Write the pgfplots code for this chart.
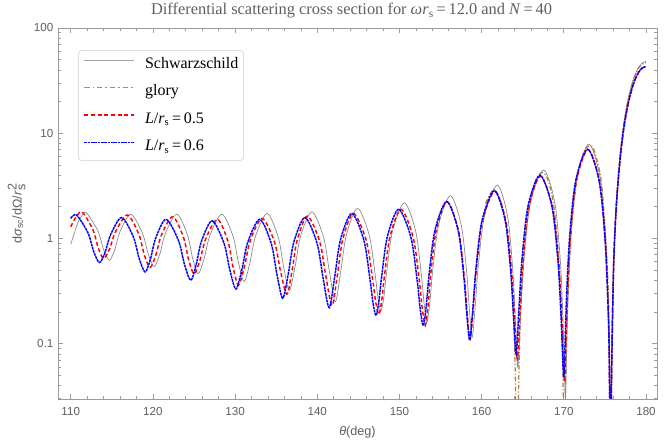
\documentclass[border=0pt]{standalone}
\usepackage{fontspec}
\setmainfont{Liberation Serif}
\setsansfont{Liberation Sans}
\usepackage{pgfplots}
\pgfplotsset{compat=1.18}
\definecolor{framegray}{RGB}{155,155,155}
\definecolor{labgray}{RGB}{95,95,95}
\definecolor{glorybrown}{RGB}{175,125,70}
\definecolor{gloryleg}{RGB}{185,135,80}
\definecolor{schwgray}{RGB}{135,135,135}
\definecolor{schwleg}{RGB}{165,165,165}
\begin{document}
\begin{tikzpicture}
\useasboundingbox (-43.5pt,-34.5pt) rectangle (454.5pt,299.25pt);
\begin{axis}[
  scale only axis, width=449.25pt, height=278.25pt,
  xmin=108.45, xmax=181.34, ymode=log, ymin=0.0298, ymax=100,
  xtick={110,120,130,140,150,160,170,180}, minor x tick num=4,
  ytick={0.1,1,10,100}, yticklabels={0.1,1,10,100},
  minor ytick={0.03,0.04,0.05,0.06,0.07,0.08,0.09,0.2,0.3,0.4,0.5,0.6,0.7,0.8,0.9,2,3,4,5,6,7,8,9,20,30,40,50,60,70,80,90},
  axis line style={framegray},
  tick style={draw=framegray, line width=0.5pt},
  major tick length=3.75pt, minor tick length=2.25pt,
  /pgf/number format/assume math mode=true,
  tick label style={font=\sffamily\fontsize{8.7}{10}\selectfont, text=labgray},
  xticklabel style={yshift=-2.5pt},
  xlabel={\textit{θ}(deg)},
  ylabel={d\textit{σ}\textsubscript{sc}/dΩ/\textit{r}$_{\textsf{s}}^{\textsf{2}}$},
  label style={font=\sffamily\fontsize{9.5}{11}\selectfont, text=labgray},
  xlabel style={at={(axis description cs:0.5,-0.09)}, anchor=center},
  ylabel style={at={(axis description cs:-0.069,0.5)}, anchor=center},
  every axis title shift=0pt,
  title style={font=\fontsize{12.3}{14}\selectfont, text=labgray, at={(axis description cs:0.49,1.046)}, anchor=center, inner sep=0pt},
  title={Differential scattering cross section for \textit{ωr}\textsubscript{s}\,=\,12.0 and \textit{N}\,=\,40},
  legend cell align=left,
  legend style={at={(axis description cs:0.0334,0.9406)}, anchor=north west,
    draw=black!20, rounded corners=3pt, fill=white,
    font=\fontsize{12}{14}\selectfont, inner xsep=4pt, inner ysep=5pt,
    row sep=9.6pt, nodes={inner sep=0pt, text height=8.5pt, text depth=2.5pt},
    /tikz/every odd column/.append style={column sep=7.5pt}},
]
\addlegendimage{legend image code/.code={\draw[schwleg, line width=0.5pt] (0pt,3pt) -- (37.5pt,3pt);}}
\addlegendentry{Schwarzschild}
\addlegendimage{legend image code/.code={\draw[gloryleg, line width=1.1pt, dash pattern=on 4pt off 2.2pt on 1.2pt off 2.2pt] (0pt,3pt) -- (37.5pt,3pt);}}
\addlegendentry{glory}
\addlegendimage{legend image code/.code={\draw[red, line width=1.1pt, dash pattern=on 3pt off 2pt] (0pt,3pt) -- (37.5pt,3pt);}}
\addlegendentry{\textit{L}/\textit{r}\textsubscript{s}\,=\,0.5}
\addlegendimage{legend image code/.code={\draw[blue, line width=1.1pt, dash pattern=on 2pt off 0.5pt] (0pt,3pt) -- (37.5pt,3pt);}}
\addlegendentry{\textit{L}/\textit{r}\textsubscript{s}\,=\,0.6}
\addplot[schwgray, line width=0.5pt, smooth, forget plot] coordinates {
(110.0,0.88) (110.9,1.43) (111.4,1.66) (111.9,1.75) (113.3,1.185) (114.0,0.785) (114.7,0.62) (115.35,0.778) (116.0,1.16) (117.3,1.70) (118.725,1.12) (119.44,0.71) (120.15,0.54) (120.84,0.71) (121.525,1.12) (122.9,1.70) (124.2,1.08) (124.85,0.64) (125.5,0.46) (126.225,0.64) (126.95,1.08) (128.4,1.70) (129.75,1.045) (130.425,0.582) (131.1,0.39) (131.8,0.586) (132.5,1.06) (133.9,1.73) (135.25,1.025) (135.925,0.526) (136.6,0.32) (137.29,0.535) (137.975,1.055) (139.35,1.79) (140.775,1.02) (141.49,0.475) (142.2,0.25) (142.875,0.496) (143.55,1.09) (144.9,1.93) (146.325,1.07) (147.04,0.458) (147.39,0.271) (147.75,0.205) (148.11,0.28) (148.46,0.494) (149.175,1.19) (150.6,2.18) (151.975,1.17) (152.66,0.456) (153.01,0.237) (153.35,0.16) (153.71,0.251) (154.06,0.51) (154.775,1.355) (156.2,2.55) (157.525,1.33) (158.19,0.471) (158.52,0.208) (158.85,0.115) (159.23,0.233) (159.61,0.57) (160.375,1.67) (161.9,3.22) (163.15,1.64) (163.775,0.523) (164.09,0.18) (164.4,0.06) (164.79,0.228) (165.19,0.706) (165.975,2.265) (167.55,4.47) (168.875,2.25) (169.54,0.68) (169.87,0.2) (170.04,0.073) (170.2,0.03) (170.37,0.106) (170.56,0.33) (170.91,1.18) (171.625,3.965) (173.05,7.9) (174.375,3.95) (175.04,1.158) (175.37,0.30) (175.54,0.076) (175.7,0.002) (175.79,0.04) (176.06,0.585) (176.42,2.41) (176.87,6.54) (177.31,12.56) (177.76,20.0) (178.21,28.1) (178.65,35.8) (179.1,42.3) (179.55,46.5) (180,48)
};
\addplot[glorybrown, line width=0.9pt, dash pattern=on 3.5pt off 1.5pt on 0.9pt off 1.5pt, smooth, forget plot] coordinates {
(160.47,2.15) (161.47,2.93) (162.35,2.23) (163.10,1.14) (163.86,0.21) (164.17,0.019) (164.31,0.0001) (164.45,0.019) (164.78,0.224) (165.52,1.386) (166.45,3.33) (167.33,4.23) (168.10,3.53) (168.83,1.91) (169.56,0.395) (169.92,0.0348) (170.07,0.0001) (170.19,0.0266) (170.47,0.264) (171.01,1.48) (171.73,4.12) (172.46,6.67) (173.13,7.62) (173.72,6.79) (174.62,3.18) (175.34,0.44) (175.59,0.0385) (175.69,0.0001) (175.79,0.0385) (176.06,0.573) (176.42,2.36) (176.87,6.4) (177.31,12.3) (177.76,19.6) (178.21,27.5) (178.65,35.0) (179.1,41.4) (179.55,45.5) (180,47)
};
\addplot[red, line width=1.1pt, dash pattern=on 3pt off 2pt, smooth, forget plot] coordinates {
(110.0,1.29) (110.7,1.62) (111.4,1.78) (112.7,1.21) (113.35,0.811) (114.0,0.645) (114.725,0.795) (115.45,1.157) (116.9,1.67) (118.275,1.10) (118.96,0.697) (119.65,0.53) (120.34,0.688) (121.025,1.07) (122.4,1.61) (123.7,1.035) (124.35,0.628) (125.0,0.46) (125.71,0.615) (126.425,0.99) (127.85,1.52) (129.125,0.94) (129.76,0.53) (130.4,0.36) (131.125,0.534) (131.85,0.955) (133.3,1.55) (134.8,0.9225) (135.55,0.479) (136.3,0.295) (136.925,0.49) (137.55,0.96) (138.8,1.63) (140.3,0.93) (141.05,0.435) (141.8,0.23) (142.45,0.45) (143.1,0.98) (144.4,1.73) (145.95,0.96) (146.725,0.415) (147.11,0.249) (147.5,0.19) (147.84,0.255) (148.175,0.439) (148.85,1.04) (150.2,1.89) (151.675,1.02) (152.41,0.404) (152.78,0.215) (153.15,0.149) (153.48,0.228) (153.81,0.454) (154.475,1.19) (155.8,2.23) (157.2,1.17) (157.9,0.42) (158.25,0.191) (158.6,0.11) (158.975,0.212) (159.35,0.504) (160.1,1.455) (161.6,2.80) (162.975,1.436) (163.66,0.471) (164.01,0.176) (164.35,0.072) (164.7,0.218) (165.05,0.632) (165.75,1.986) (167.15,3.9) (168.625,1.97) (169.36,0.608) (169.73,0.19) (169.92,0.08) (170.1,0.043) (170.27,0.11) (170.46,0.308) (170.81,1.06) (171.525,3.52) (172.95,7.0) (174.325,3.5) (175.01,1.027) (175.36,0.268) (175.54,0.069) (175.7,0.002) (175.79,0.035) (176.06,0.535) (176.42,2.2) (176.87,5.86) (177.31,11.25) (177.76,17.9) (178.21,25.2) (178.65,32.1) (179.1,37.9) (179.55,41.7) (180,43)
};
\addplot[blue, line width=1.1pt, dash pattern=on 2pt off 0.5pt, smooth, forget plot] coordinates {
(110.0,1.55) (110.7,1.67) (112.1,1.13) (112.8,0.748) (113.5,0.59) (114.175,0.735) (114.85,1.085) (116.2,1.58) (117.625,1.03) (118.34,0.641) (119.05,0.48) (119.69,0.632) (120.325,1.0) (121.6,1.52) (123.1,0.96) (123.85,0.564) (124.6,0.40) (125.25,0.557) (125.9,0.935) (127.2,1.47) (128.65,0.90) (129.375,0.497) (130.1,0.33) (130.825,0.504) (131.55,0.925) (133.0,1.52) (134.4,0.895) (135.1,0.453) (135.8,0.27) (136.475,0.462) (137.15,0.925) (138.5,1.58) (139.975,0.90) (140.71,0.419) (141.45,0.22) (142.14,0.441) (142.825,0.975) (144.2,1.73) (145.675,0.9575) (146.41,0.411) (146.78,0.244) (147.15,0.185) (147.49,0.25) (147.84,0.435) (148.525,1.04) (149.9,1.89) (151.4,1.02) (152.15,0.403) (152.525,0.214) (152.9,0.148) (153.26,0.228) (153.61,0.456) (154.325,1.2) (155.75,2.25) (157.15,1.18) (157.85,0.422) (158.2,0.19) (158.55,0.108) (158.925,0.212) (159.3,0.509) (160.05,1.48) (161.55,2.85) (162.875,1.465) (163.54,0.486) (163.87,0.186) (164.2,0.08) (164.56,0.229) (164.925,0.654) (165.65,2.04) (167.1,4.0) (168.55,2.024) (169.275,0.627) (169.64,0.199) (169.83,0.086) (170.0,0.048) (170.17,0.11) (170.36,0.315) (170.725,1.073) (171.45,3.55) (172.9,7.05) (174.3,3.53) (175.0,1.034) (175.35,0.27) (175.53,0.07) (175.7,0.002) (175.79,0.035) (176.06,0.535) (176.42,2.2) (176.87,5.86) (177.31,11.25) (177.76,17.9) (178.21,25.2) (178.65,32.1) (179.1,37.9) (179.55,41.7) (180,43)
};
\end{axis}
\end{tikzpicture}
\end{document}
